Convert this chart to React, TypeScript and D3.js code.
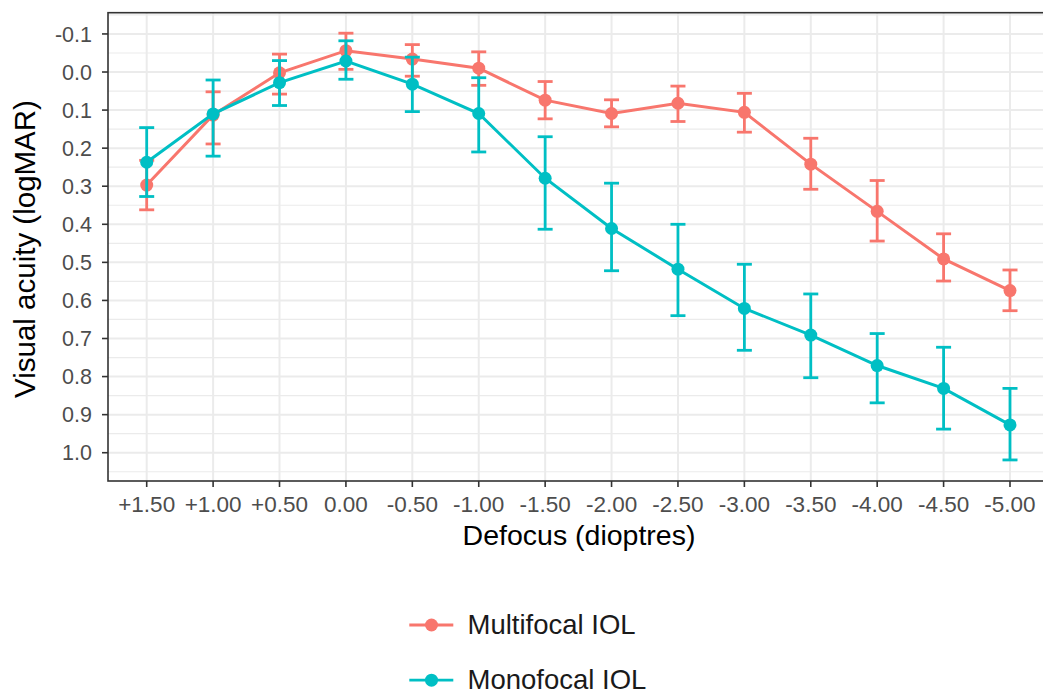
import React from "react";
import * as d3 from "d3";

const categories = ["+1.50", "+1.00", "+0.50", "0.00", "-0.50", "-1.00", "-1.50", "-2.00", "-2.50", "-3.00", "-3.50", "-4.00", "-4.50", "-5.00"];

const multiMean = [0.297, 0.113, 0.002, -0.056, -0.034, -0.010, 0.074, 0.109, 0.082, 0.106, 0.242, 0.366, 0.491, 0.574];
const multiLow = [0.232, 0.052, -0.047, -0.102, -0.072, -0.053, 0.025, 0.073, 0.037, 0.056, 0.174, 0.285, 0.425, 0.520];
const multiHigh = [0.362, 0.189, 0.058, -0.007, 0.011, 0.035, 0.123, 0.144, 0.130, 0.158, 0.308, 0.444, 0.549, 0.627];

const monoMean = [0.237, 0.110, 0.028, -0.029, 0.032, 0.109, 0.279, 0.411, 0.518, 0.621, 0.691, 0.771, 0.831, 0.927];
const monoLow = [0.146, 0.021, -0.030, -0.082, -0.039, 0.015, 0.170, 0.292, 0.400, 0.505, 0.583, 0.687, 0.723, 0.831];
const monoHigh = [0.327, 0.221, 0.088, 0.019, 0.104, 0.210, 0.413, 0.522, 0.640, 0.731, 0.803, 0.869, 0.938, 1.019];

const yTicks = [-0.1, 0.0, 0.1, 0.2, 0.3, 0.4, 0.5, 0.6, 0.7, 0.8, 0.9, 1.0];
const yTickLabels = ["-0.1", "0.0", "0.1", "0.2", "0.3", "0.4", "0.5", "0.6", "0.7", "0.8", "0.9", "1.0"];
const yMinor = [-0.15, -0.05, 0.05, 0.15, 0.25, 0.35, 0.45, 0.55, 0.65, 0.75, 0.85, 0.95, 1.05];

const seriesNames = ["Multifocal IOL", "Monofocal IOL"];
const colors = ["#F8766D", "#00BFC4"];

const W = 1043;
const H = 695;
const panel = { left: 108, right: 1050, top: 12.7, bottom: 481 };
const FONT = "'Liberation Sans', Arial, Helvetica, sans-serif";

export default function App() {
  const x = d3
    .scalePoint<string>()
    .domain(categories)
    .range([146.7, 1010])
    .padding(0);
  const y = d3.scaleLinear().domain([-0.1558, 1.0743]).range([panel.top, panel.bottom]);

  const series = [
    { name: seriesNames[0], mean: multiMean, lo: multiLow, hi: multiHigh, color: colors[0] },
    { name: seriesNames[1], mean: monoMean, lo: monoLow, hi: monoHigh, color: colors[1] },
  ];

  const line = d3
    .line<number>()
    .x((_, i) => x(categories[i]) as number)
    .y((d) => y(d));

  const capHalf = 7.5;

  return (
    <svg
      width={W}
      height={H}
      style={{ position: "absolute", left: 0, top: 0, background: "#fff" }}
      fontFamily={FONT}
    >
      <rect x={0} y={0} width={W} height={H} fill="#fff" />
      {/* grid */}
      <g>
        {yMinor.map((v) => (
          <line key={"mn" + v} x1={panel.left} x2={panel.right} y1={y(v)} y2={y(v)} stroke="#EBEBEB" strokeWidth={1.2} />
        ))}
        {yTicks.map((v) => (
          <line key={"mj" + v} x1={panel.left} x2={panel.right} y1={y(v)} y2={y(v)} stroke="#EBEBEB" strokeWidth={2} />
        ))}
        {categories.map((c) => (
          <line key={"gx" + c} x1={x(c)} x2={x(c)} y1={panel.top} y2={panel.bottom} stroke="#EBEBEB" strokeWidth={2} />
        ))}
      </g>
      {/* series */}
      {series.map((s) => (
        <g key={s.name}>
          {s.mean.map((_, i) => {
            const cx = x(categories[i]) as number;
            return (
              <g key={i} stroke={s.color} strokeWidth={2.8}>
                <line x1={cx} x2={cx} y1={y(s.lo[i])} y2={y(s.hi[i])} />
                <line x1={cx - capHalf} x2={cx + capHalf} y1={y(s.lo[i])} y2={y(s.lo[i])} />
                <line x1={cx - capHalf} x2={cx + capHalf} y1={y(s.hi[i])} y2={y(s.hi[i])} />
              </g>
            );
          })}
          <path d={line(s.mean) || ""} fill="none" stroke={s.color} strokeWidth={3} />
          {s.mean.map((v, i) => (
            <circle key={"p" + i} cx={x(categories[i]) as number} cy={y(v)} r={6.5} fill={s.color} />
          ))}
        </g>
      ))}
      {/* panel border */}
      <rect
        x={panel.left}
        y={panel.top}
        width={panel.right - panel.left}
        height={panel.bottom - panel.top}
        fill="none"
        stroke="#333333"
        strokeWidth={1.6}
      />
      {/* y axis */}
      <g>
        {yTicks.map((v, i) => (
          <g key={"yt" + v}>
            <line x1={panel.left - 6} x2={panel.left} y1={y(v)} y2={y(v)} stroke="#333333" strokeWidth={1.6} />
            <text x={panel.left - 16} y={y(v)} dy="0.36em" textAnchor="end" fontSize={21.5} fill="#4D4D4D">
              {yTickLabels[i]}
            </text>
          </g>
        ))}
      </g>
      {/* x axis */}
      <g>
        {categories.map((c) => (
          <g key={"xt" + c}>
            <line x1={x(c)} x2={x(c)} y1={panel.bottom} y2={panel.bottom + 6} stroke="#333333" strokeWidth={1.6} />
            <text x={x(c)} y={511.5} textAnchor="middle" fontSize={22.5} fill="#4D4D4D">
              {c}
            </text>
          </g>
        ))}
      </g>
      {/* axis titles */}
      <text x={579} y={545} textAnchor="middle" fontSize={28.5} fill="#000">
        Defocus (dioptres)
      </text>
      <text
        transform={`translate(34.5,249) rotate(-90)`}
        textAnchor="middle"
        fontSize={29.5}
        fill="#000"
      >
        Visual acuity (logMAR)
      </text>
      {/* legend */}
      {series.map((s, i) => {
        const ly = 625 + i * 55.2;
        return (
          <g key={"lg" + i}>
            <line x1={409.3} x2={453.3} y1={ly} y2={ly} stroke={s.color} strokeWidth={2.8} />
            <circle cx={431.5} cy={ly} r={6.5} fill={s.color} />
            <text x={467.5} y={ly + 9} fontSize={27.5} fill="#1A1A1A">
              {s.name}
            </text>
          </g>
        );
      })}
    </svg>
  );
}
